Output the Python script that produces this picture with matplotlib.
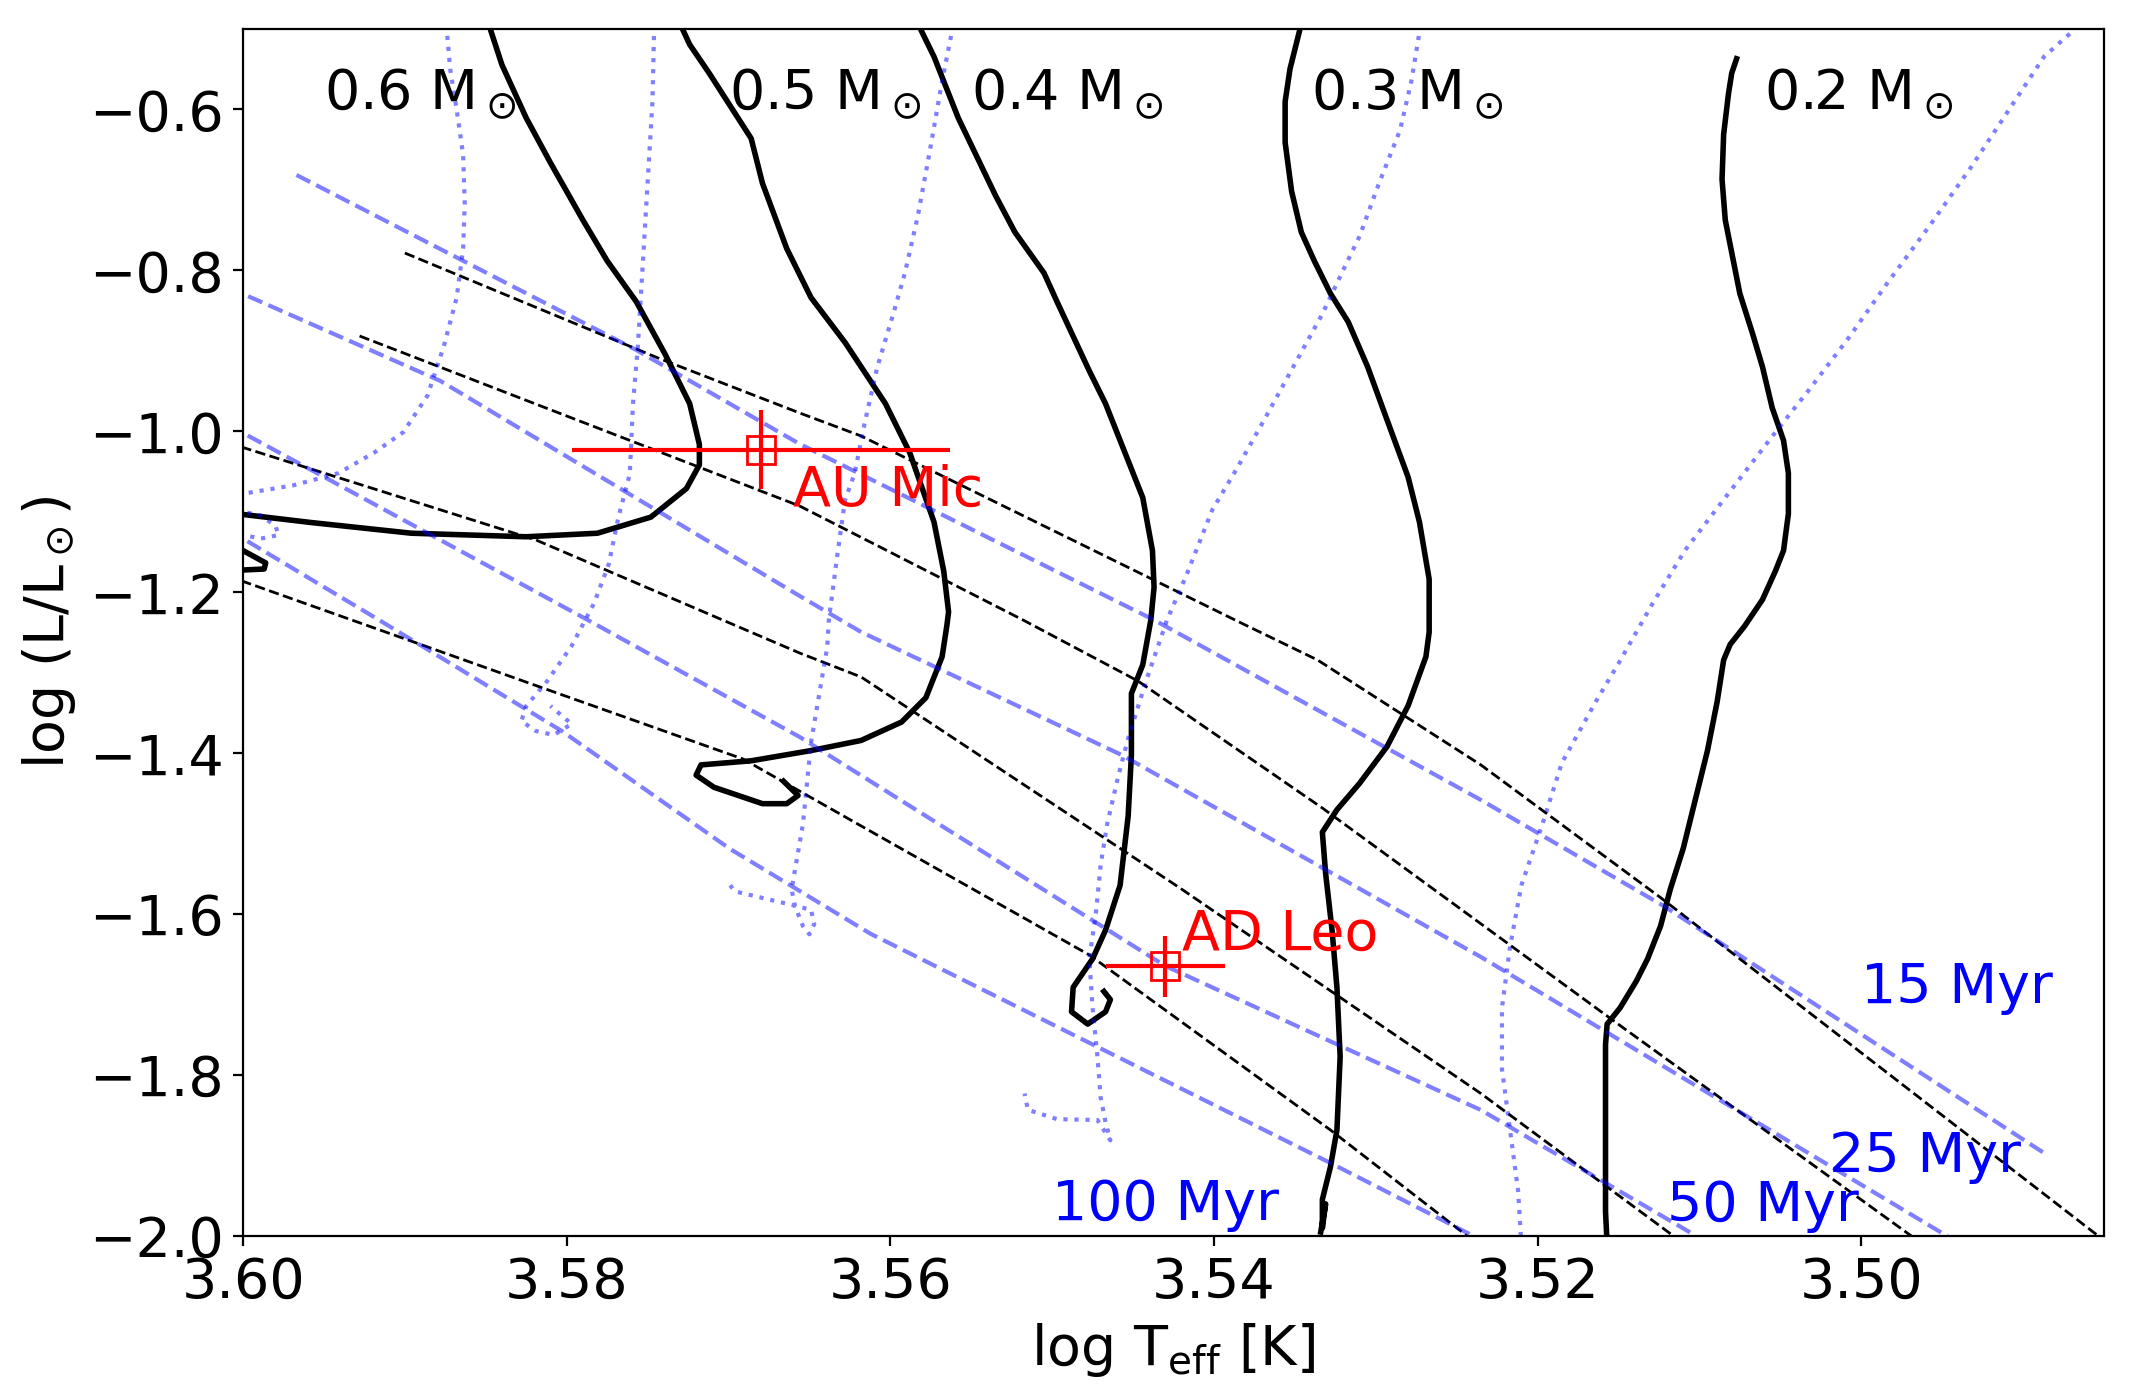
import matplotlib
matplotlib.use("Agg")
import matplotlib.pyplot as plt

# ---- evolutionary tracks (solid black), log Teff / log L ----
m06_logt = [3.5849, 3.5847, 3.5840, 3.5825, 3.5810, 3.5790, 3.5775, 3.5757, 3.5739,
            3.5724, 3.5718, 3.5718, 3.5726, 3.5748, 3.5781, 3.5825, 3.5896, 3.5958,
            3.6000, 3.6011, 3.6011, 3.6000, 3.5986, 3.5987, 3.6000, 3.6011]
m06_logl = [-0.4830, -0.5015, -0.5446, -0.6106, -0.6664, -0.7374, -0.7881, -0.8388, -0.9048,
            -0.9656, -1.0163, -1.0417, -1.0711, -1.1066, -1.1266, -1.1310, -1.1266, -1.1133,
            -1.1033, -1.1002, -1.1450, -1.1482, -1.1635, -1.1711, -1.1723, -1.1723]

m05_logt = [3.5731, 3.5724, 3.5712, 3.5686, 3.5679, 3.5664, 3.5649, 3.5628, 3.5603,
            3.5588, 3.5573, 3.5567, 3.5564, 3.5565, 3.5568, 3.5578, 3.5593, 3.5618,
            3.5649, 3.5686, 3.5717, 3.5720, 3.5709, 3.5679, 3.5664, 3.5657, 3.5666]
m05_logl = [-0.4888, -0.5193, -0.5547, -0.6360, -0.6918, -0.7729, -0.8338, -0.8895, -0.9656,
            -1.0265, -1.1127, -1.1735, -1.2243, -1.2407, -1.2801, -1.3309, -1.3612, -1.3841,
            -1.3967, -1.4094, -1.4145, -1.4272, -1.4423, -1.4627, -1.4627, -1.4525, -1.4348]

m04_logt = [3.5583, 3.5581, 3.5573, 3.5558, 3.5535, 3.5523, 3.5505, 3.5497, 3.5477,
            3.5467, 3.5444, 3.5438, 3.5437, 3.5439, 3.5444, 3.5451, 3.5451, 3.5453,
            3.5458, 3.5467, 3.5475, 3.5487, 3.5488, 3.5478, 3.5467, 3.5464, 3.5468]
m04_logl = [-0.4863, -0.5015, -0.5344, -0.6106, -0.7069, -0.7525, -0.8033, -0.8388, -0.9250,
            -0.9656, -1.0823, -1.1482, -1.1938, -1.2344, -1.2902, -1.3258, -1.4018, -1.4779,
            -1.5641, -1.6199, -1.6555, -1.6909, -1.7213, -1.7366, -1.7213, -1.7062, -1.6960]

m03_logt = [3.5346, 3.5347, 3.5353, 3.5356, 3.5356, 3.5352, 3.5346, 3.5338, 3.5328,
            3.5317, 3.5305, 3.5293, 3.5280, 3.5273, 3.5267, 3.5267, 3.5269, 3.5280,
            3.5293, 3.5310, 3.5324, 3.5333, 3.5331, 3.5327, 3.5324, 3.5322, 3.5324,
            3.5328, 3.5333, 3.5333, 3.5331, 3.5334]
m03_logl = [-0.4863, -0.5015, -0.5497, -0.5902, -0.6409, -0.7018, -0.7525, -0.7881, -0.8287,
            -0.8641, -0.9199, -0.9859, -1.0569, -1.1127, -1.1837, -1.2496, -1.2801, -1.3409,
            -1.3916, -1.4374, -1.4703, -1.4981, -1.5490, -1.6199, -1.6909, -1.7771, -1.8684,
            -1.9140, -1.9546, -1.9902, -1.9600, -1.9950]

m02_logt = [3.5077, 3.5080, 3.5082, 3.5085, 3.5086, 3.5084, 3.5079, 3.5075, 3.5067,
            3.5061, 3.5055, 3.5048, 3.5045, 3.5045, 3.5048, 3.5053, 3.5061, 3.5072,
            3.5081, 3.5085, 3.5089, 3.5095, 3.5100, 3.5105, 3.5110, 3.5118, 3.5124,
            3.5132, 3.5139, 3.5149, 3.5157, 3.5158, 3.5158, 3.5158, 3.5157]
m02_logl = [-0.5370, -0.5548, -0.5802, -0.6309, -0.6867, -0.7374, -0.7881, -0.8287, -0.8794,
            -0.9199, -0.9707, -1.0113, -1.0519, -1.1026, -1.1482, -1.1735, -1.2091, -1.2419,
            -1.2649, -1.2841, -1.3358, -1.3967, -1.4374, -1.4779, -1.5185, -1.5692, -1.6148,
            -1.6555, -1.6833, -1.7164, -1.7366, -1.7620, -1.8380, -1.9699, -2.0111]

mass_labels = ["0.6", "0.5", "0.4", "0.3", "0.2"]
mass_label_x = [3.595, 3.570, 3.555, 3.534, 3.506]
mass_label_y = -0.6

# ---- isochrones, model 1 (black dashed) ----
k15_logt = [3.5900, 3.5742, 3.5656, 3.5618, 3.5387, 3.5336, 3.5235, 3.5124, 3.4855, 3.4847]
k15_logl = [-0.7784, -0.9101, -0.9772, -1.0058, -1.2344, -1.2841, -1.4146, -1.5794, -1.9975, -2.0100]
k25_logt = [3.5928, 3.5656, 3.5518, 3.5447, 3.5333, 3.5223, 3.5152, 3.4969, 3.4960]
k25_logl = [-0.8815, -1.0928, -1.2344, -1.3102, -1.4681, -1.6296, -1.7340, -1.9999, -2.0124]
k50_logt = [3.6010, 3.6000, 3.5819, 3.5656, 3.5618, 3.5421, 3.5235, 3.5116, 3.5110]
k50_logl = [-1.0160, -1.0201, -1.1350, -1.2755, -1.3053, -1.5675, -1.8229, -1.9999, -2.0100]
k100_logt = [3.6010, 3.6000, 3.5891, 3.5820, 3.5691, 3.5618, 3.5477, 3.5328, 3.5245, 3.5240]
k100_logl = [-1.1820, -1.1865, -1.2643, -1.3152, -1.4072, -1.4904, -1.6507, -1.8682, -1.9975, -2.0080]

# ---- isochrones, model 2 (blue dashed) ----
b15_logt = [3.5967, 3.5757, 3.5656, 3.5437, 3.5235, 3.5122, 3.4887]
b15_logl = [-0.6814, -0.8989, -1.0157, -1.2344, -1.4581, -1.5899, -1.8968]
b25_logt = [3.6010, 3.6000, 3.5878, 3.5656, 3.5618, 3.5457, 3.5235, 3.4947, 3.4940]
b25_logl = [-0.8250, -0.8293, -0.9374, -1.2046, -1.2494, -1.4022, -1.6532, -1.9999, -2.0100]
b50_logt = [3.6010, 3.6000, 3.5787, 3.5656, 3.5430, 3.5235, 3.5104, 3.5098]
b50_logl = [-0.9965, -1.0021, -1.2344, -1.3798, -1.6644, -1.8434, -1.9975, -2.0080]
b100_logt = [3.6010, 3.6000, 3.5916, 3.5803, 3.5699, 3.5612, 3.5328, 3.5242, 3.5236]
b100_logl = [-1.1270, -1.1333, -1.2344, -1.3724, -1.5190, -1.6246, -1.9092, -1.9975, -2.0090]

age_labels = ["15 Myr", "25 Myr", "50 Myr", "100 Myr"]
age_label_x = [3.500, 3.502, 3.512, 3.550]
age_label_y = [-1.711, -1.921, -1.981, -1.980]

# ---- tracks, model 2 (blue dotted) ----
d06_logt = [3.5875, 3.5874, 3.5872, 3.5868, 3.5864, 3.5863, 3.5864, 3.5868, 3.5876,
            3.5886, 3.5901, 3.5919, 3.5941, 3.5969, 3.5999, 3.6008, 3.6008, 3.6000,
            3.5989, 3.5980, 3.5978, 3.5989, 3.6000, 3.6008]
d06_logl = [-0.4950, -0.5040, -0.5497, -0.6004, -0.6562, -0.7171, -0.7729, -0.8338, -0.8946,
            -0.9555, -1.0011, -1.0265, -1.0519, -1.0671, -1.0772, -1.0791, -1.0977, -1.1000,
            -1.1045, -1.1176, -1.1288, -1.1333, -1.1288, -1.1278]
d05_logt = [3.5746, 3.5746, 3.5747, 3.5750, 3.5753, 3.5756, 3.5759, 3.5761, 3.5768,
            3.5774, 3.5783, 3.5797, 3.5812, 3.5825, 3.5828, 3.5819, 3.5808, 3.5797, 3.5810]
d05_logl = [-0.4950, -0.5037, -0.5907, -0.6914, -0.7933, -0.8939, -0.9648, -1.0530, -1.1064,
            -1.1649, -1.2133, -1.2668, -1.3102, -1.3413, -1.3600, -1.3724, -1.3773, -1.3637, -1.3413]
d04_logt = [3.5562, 3.5562, 3.5568, 3.5576, 3.5583, 3.5591, 3.5598, 3.5608, 3.5616,
            3.5622, 3.5628, 3.5633, 3.5638, 3.5639, 3.5649, 3.5654, 3.5661, 3.5659,
            3.5654, 3.5650, 3.5647, 3.5649, 3.5664, 3.5696, 3.5699]
d04_logl = [-0.4950, -0.5040, -0.5649, -0.6562, -0.7324, -0.8033, -0.8529, -0.9199, -0.9910,
            -1.0520, -1.0853, -1.1574, -1.2344, -1.2684, -1.3865, -1.4881, -1.5692, -1.5895,
            -1.6148, -1.6250, -1.6123, -1.5946, -1.5870, -1.5717, -1.5641]
d03_logt = [3.5273, 3.5273, 3.5278, 3.5285, 3.5298, 3.5310, 3.5321, 3.5333, 3.5351,
            3.5369, 3.5386, 3.5401, 3.5417, 3.5429, 3.5442, 3.5453, 3.5459, 3.5466,
            3.5470, 3.5473, 3.5477, 3.5475, 3.5472, 3.5470, 3.5467, 3.5464, 3.5472,
            3.5497, 3.5515, 3.5517]
d03_logl = [-0.4950, -0.5040, -0.5649, -0.6258, -0.6918, -0.7576, -0.8033, -0.8541, -0.9199,
            -0.9859, -1.0468, -1.0975, -1.1786, -1.2344, -1.3105, -1.3816, -1.4272, -1.4881,
            -1.5388, -1.5997, -1.6555, -1.7164, -1.7771, -1.8280, -1.8583, -1.8811, -1.8558,
            -1.8547, -1.8431, -1.8229]
d02_logt = [3.4867, 3.4870, 3.4887, 3.4907, 3.4932, 3.4957, 3.4983, 3.5008, 3.5033,
            3.5053, 3.5084, 3.5109, 3.5129, 3.5149, 3.5164, 3.5185, 3.5197, 3.5210,
            3.5217, 3.5222, 3.5222, 3.5217, 3.5212, 3.5210]
d02_logl = [-0.4950, -0.5040, -0.5344, -0.5953, -0.6714, -0.7425, -0.8134, -0.8845, -0.9504,
            -1.0011, -1.0823, -1.1482, -1.2142, -1.2851, -1.3358, -1.4120, -1.4881, -1.5641,
            -1.6402, -1.7164, -1.7924, -1.8684, -1.9445, -2.0111]

# ---- stars ----
star_names = ["AU Mic", "AD Leo"]
star_logt = [3.568, 3.543]
star_logt_err = [0.0117, 0.0037]
star_logl = [-1.023, -1.665]
star_logl_err = [0.049, 0.038]
star_label_x = [3.566, 3.542]
star_label_y = [-1.092, -1.644]


plt.rcParams["font.size"] = 20

fig, ax = plt.subplots(figsize=(10.67, 7), dpi=200)
fig.subplots_adjust(left=0.1139, right=0.9859, bottom=0.1171, top=0.9793)

tracks = [(m06_logt, m06_logl), (m05_logt, m05_logl), (m04_logt, m04_logl),
          (m03_logt, m03_logl), (m02_logt, m02_logl)]
for t, l in tracks:
    ax.plot(t, l, "k-", lw=2)

for t, l in [(k15_logt, k15_logl), (k25_logt, k25_logl),
             (k50_logt, k50_logl), (k100_logt, k100_logl)]:
    ax.plot(t, l, "k--", lw=1)

for t, l in [(b15_logt, b15_logl), (b25_logt, b25_logl),
             (b50_logt, b50_logl), (b100_logt, b100_logl)]:
    ax.plot(t, l, "--", color="blue", alpha=0.5, lw=1.5)

for t, l in [(d06_logt, d06_logl), (d05_logt, d05_logl), (d04_logt, d04_logl),
             (d03_logt, d03_logl), (d02_logt, d02_logl)]:
    ax.plot(t, l, ":", color="blue", alpha=0.5, lw=1.5)

for lab, x in zip(mass_labels, mass_label_x):
    ax.text(x, mass_label_y, lab + r" $\mathrm{M}_\odot$", fontsize=20)

for lab, x, y in zip(age_labels, age_label_x, age_label_y):
    ax.text(x, y, lab, color="blue", fontsize=20)

for i in range(len(star_names)):
    ax.errorbar(star_logt[i], star_logl[i], xerr=star_logt_err[i], yerr=star_logl_err[i],
                fmt="s", color="red", mfc="none", ms=10, elinewidth=1.5)
    ax.text(star_label_x[i], star_label_y[i], star_names[i], color="red", fontsize=20)

ax.set_xlim(3.60, 3.485)
ax.set_ylim(-2.0, -0.5)
ax.set_xticks([3.60, 3.58, 3.56, 3.54, 3.52, 3.50])
ax.set_yticks([-2.0, -1.8, -1.6, -1.4, -1.2, -1.0, -0.8, -0.6])
ax.set_xlabel(r"log T$_{\rm eff}$ [K]")
ax.set_ylabel(r"log (L/L$_\odot$)")

fig.savefig("out.png", dpi=200)
